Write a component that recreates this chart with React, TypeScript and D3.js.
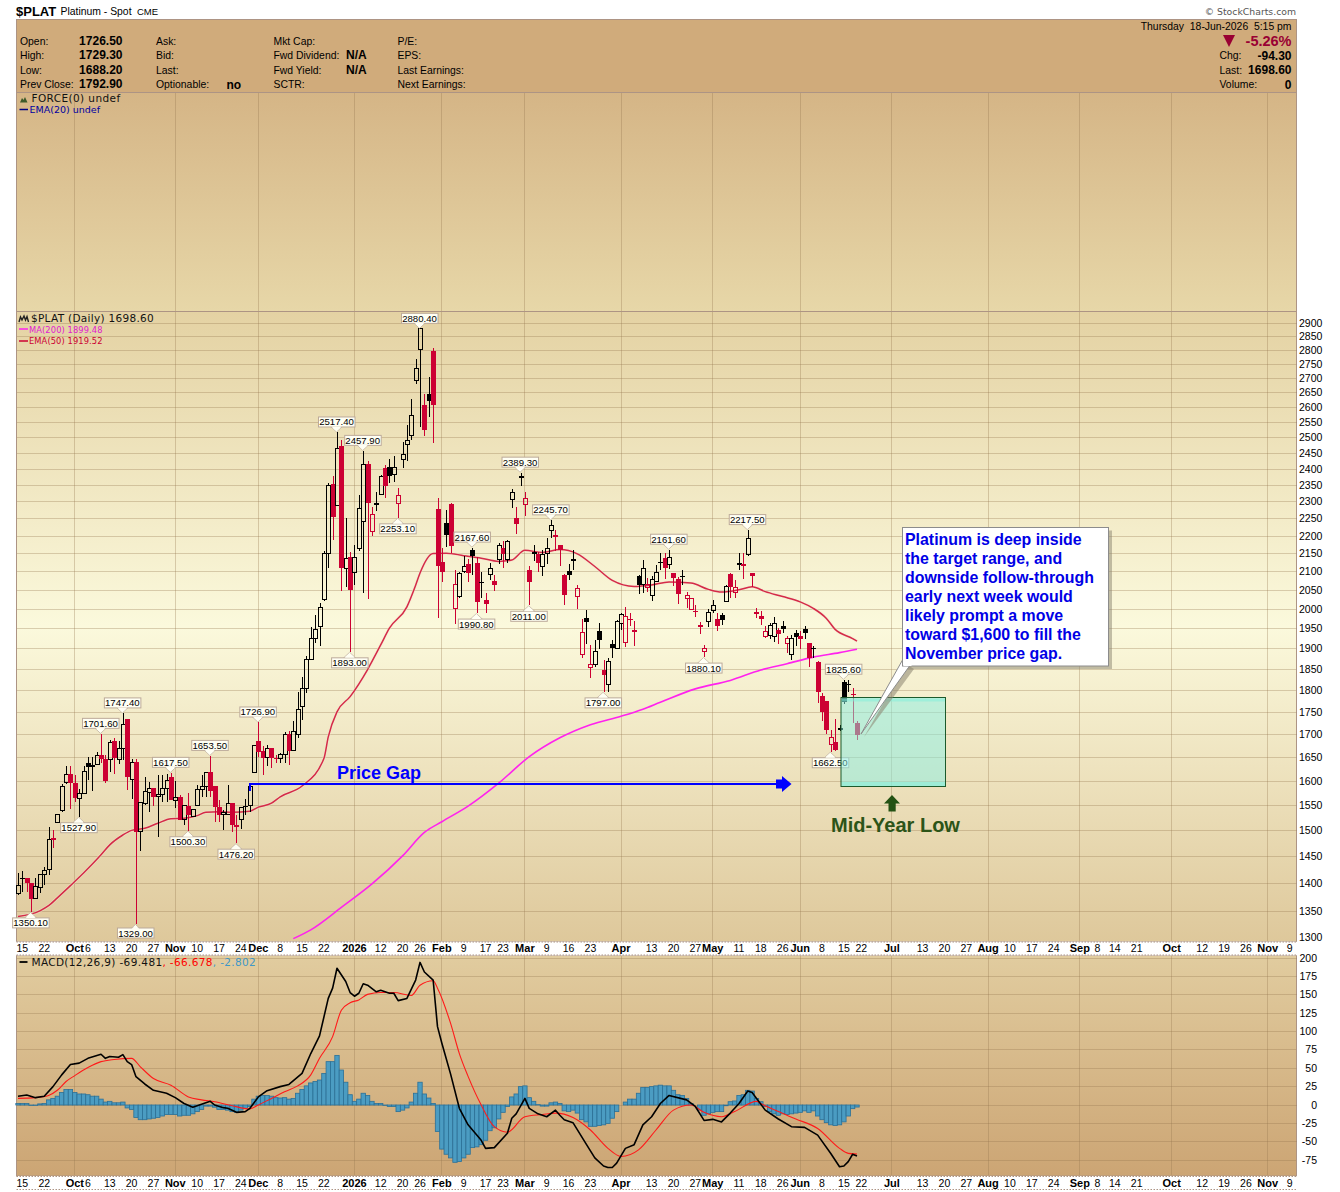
import React from 'react';
import * as d3 from 'd3';

// trading days, index 0 = 12 Sep 2025, index 192 = 18 Jun 2026
const opens = [
  1383, 1410, 1411, 1402, 1373, 1394, 1418, 1426, 1486, 1517,
  1541, 1597, 1615, 1596, 1565, 1575, 1638, 1630, 1635, 1656,
  1646, 1645, 1686, 1646, 1670, 1734, 1603, 1640, 1499, 1555,
  1577, 1585, 1568, 1573, 1585, 1609, 1561, 1568, 1523, 1549,
  1528, 1551, 1583, 1589, 1619, 1590, 1547, 1532, 1532, 1555,
  1511, 1522, 1547, 1550, 1618, 1686, 1665, 1650, 1670, 1650,
  1649, 1657, 1701, 1665, 1700, 1763, 1806, 1873, 1926, 1956,
  2027, 2152, 2354, 2289, 2475, 2110, 2142, 2098, 2166, 2243,
  2416, 2212, 2293, 2322, 2404, 2406, 2383, 2294, 2430, 2477,
  2506, 2692, 2805, 2609, 2645, 2798, 2280, 2128, 2238, 2294,
  2003, 2035, 2101, 2123, 2161, 2126, 2071, 2025, 2094, 2076,
  2135, 2166, 2133, 2306, 2254, 2380, 2291, 2105, 2151, 2150,
  2115, 2152, 2216, 2203, 2176, 2092, 2103, 2132, 2035, 1887,
  1977, 1856, 1863, 1944, 1849, 1815, 1912, 1902, 1965, 1916,
  1976, 1942, 2089, 2065, 2059, 2037, 2073, 2126, 2138, 2120,
  2098, 2080, 2088, 2028, 2001, 1997, 1959, 1893, 1968, 1997,
  1975, 1987, 2021, 2095, 2044, 2120, 2123, 2149, 2097, 1993,
  1982, 1931, 1933, 1931, 1948, 1957, 1914, 1887, 1939, 1932,
  1950, 1914, 1901, 1869, 1787, 1775, 1679, 1684, 1711, 1821,
  1814, 1793, 1726.5,
];
const highs = [
  1420, 1423, 1411, 1402, 1411, 1418, 1432, 1507, 1502, 1533,
  1594, 1632, 1632, 1614, 1583, 1632, 1652, 1652, 1663, 1701.6,
  1656, 1688, 1693, 1685, 1747.4, 1734, 1647, 1647, 1557, 1608,
  1599, 1585, 1613, 1613, 1615, 1617.5, 1600, 1572, 1550, 1575,
  1543, 1592, 1613, 1620, 1653.5, 1590, 1562, 1541, 1592, 1555,
  1532, 1547, 1563, 1595, 1677, 1726.9, 1674, 1677, 1670, 1656,
  1659, 1706, 1708, 1731, 1797, 1833, 1883, 1954, 1986, 2018,
  2158, 2356, 2379, 2517.4, 2492, 2252, 2154, 2176, 2320, 2457.9,
  2427, 2285, 2331, 2382, 2412, 2432, 2442, 2342, 2488, 2543,
  2630, 2768, 2880.4, 2645, 2707, 2811, 2312, 2166, 2276, 2298,
  2105, 2101, 2144, 2135, 2167.6, 2141, 2101, 2043, 2125, 2092,
  2180, 2185, 2189, 2340, 2286, 2389.3, 2330, 2116, 2175, 2156,
  2160, 2194, 2245.7, 2217, 2176, 2095, 2122, 2160, 2066, 1975,
  1999, 1910, 1922, 1966, 1873, 1879, 1922, 1972, 1992, 2006,
  1990, 1970, 2091, 2132, 2084, 2088, 2118, 2152, 2152, 2161.6,
  2098, 2086, 2105, 2047, 2031, 2012, 1967, 1910, 2001, 2026,
  1992, 1992, 2065, 2097, 2079, 2153, 2152, 2217.5, 2097, 2003,
  1995, 1957, 1965, 1980, 1952, 1971, 1932, 1934, 1947, 1945,
  1958, 1915, 1907, 1870, 1794, 1775, 1710, 1734, 1722, 1825.6,
  1825, 1807, 1729.3,
];
const lows = [
  1380, 1386, 1386, 1350.1, 1374, 1383, 1398, 1416, 1467, 1517,
  1538, 1594, 1543, 1557, 1527.9, 1575, 1603, 1580, 1635, 1638,
  1596, 1620, 1616, 1637, 1645, 1582, 1563, 1329, 1462, 1551,
  1538, 1550, 1489, 1557, 1557, 1562, 1545, 1522, 1512, 1500.3,
  1528, 1551, 1568, 1568, 1568, 1518, 1518, 1502, 1532, 1497,
  1476.2, 1504, 1532, 1538, 1618, 1652, 1613, 1631, 1627, 1638,
  1639, 1639, 1635, 1665, 1693, 1732, 1794, 1872, 1914, 1907,
  2022, 2110, 2190, 2289, 2050, 2059, 1893, 2066, 2159, 2043,
  2027, 2201, 2273, 2322, 2311, 2358, 2360, 2253.1, 2404, 2426,
  2492, 2680, 2536, 2505, 2568, 2484, 1977, 2074, 2168, 2152,
  1962, 2030, 2096, 2073, 2092, 1990.8, 2031, 1992, 2079, 2050,
  2122, 2112, 2125, 2281, 2205, 2349, 2259, 2011, 2129, 2101,
  2089, 2123, 2194, 2159, 2117, 2012, 2079, 2105, 2002, 1879,
  1912, 1829, 1855, 1899, 1797, 1797.5, 1877, 1901, 1948, 1906,
  1957, 1908, 2040, 2044, 2047, 2021, 2073, 2105, 2082, 2107,
  2062, 2015, 2065, 2004, 1999, 1980, 1937, 1880.1, 1954, 1990,
  1946, 1960, 2019, 2030, 2030, 2105, 2082, 2145, 2059, 1977,
  1960, 1927, 1924, 1918, 1912, 1941, 1889, 1873, 1907, 1899,
  1926, 1857, 1877, 1772, 1731, 1701, 1662.5, 1665, 1708, 1770,
  1797, 1725, 1688.2,
];
const closes = [
  1398, 1411, 1401, 1373, 1395, 1418, 1425, 1484, 1483, 1533,
  1590, 1615, 1596, 1566, 1575, 1620, 1630, 1634, 1654, 1646,
  1600, 1683, 1648, 1670, 1723, 1608, 1640, 1497, 1557, 1578,
  1584, 1568, 1573, 1585, 1601, 1562, 1567, 1522, 1550, 1532,
  1543, 1583, 1589, 1619, 1580, 1547, 1532, 1537, 1555, 1512,
  1509, 1547, 1550, 1590, 1677, 1663, 1650, 1670, 1650, 1646,
  1657, 1701, 1665, 1706, 1757, 1805, 1873, 1926, 1949, 2006,
  2152, 2351, 2256, 2467, 2110, 2138, 2052, 2140, 2280, 2415,
  2298, 2263, 2296, 2378, 2348, 2380, 2406, 2320, 2446, 2492,
  2572, 2736, 2880, 2525, 2622, 2609, 2115, 2101, 2203, 2173,
  2065, 2096, 2115, 2098, 2144, 2020, 2074, 2015, 2110, 2066,
  2173, 2150, 2186, 2329, 2236, 2372, 2311, 2073, 2154, 2125,
  2149, 2165, 2232, 2200, 2160, 2039, 2092, 2135, 2056, 1941,
  1968, 1863, 1893, 1922, 1837, 1870, 1903, 1968, 1987, 1982,
  1974, 1947, 2065, 2110, 2067, 2079, 2099, 2128, 2110, 2140,
  2084, 2040, 2090, 2037, 2030, 1995, 1957, 1900, 1993, 2011,
  1958, 1974, 2061, 2060, 2059, 2124, 2117, 2194, 2089, 1991,
  1975, 1944, 1958, 1965, 1937, 1950, 1926, 1927, 1929, 1925,
  1941, 1877, 1903, 1797, 1751, 1710, 1693, 1666, 1715, 1773,
  1816, 1792.9, 1698.6,
];

const ema50Idx = [0, 5, 7, 9, 12, 15, 19, 21, 24, 26, 29, 32, 35, 38, 41, 43, 46, 49, 53, 55, 58, 60, 65, 70, 71, 73, 76, 80, 83, 85, 89, 91, 92, 95, 98, 102, 106, 110, 113, 116, 120, 124, 128, 132, 136, 141, 145, 149, 154, 158, 161, 165, 168, 171, 175, 179, 182, 185, 187, 191, 192];
const ema50Val = [1342, 1352, 1361, 1375, 1397, 1420, 1454, 1473, 1492, 1501, 1505, 1515, 1524, 1525, 1530, 1537, 1538, 1537, 1539, 1547, 1555, 1568, 1590, 1648, 1695, 1751, 1786, 1850, 1910, 1952, 2007, 2064, 2097, 2151, 2152, 2145, 2138, 2129, 2133, 2160, 2154, 2162, 2150, 2115, 2077, 2061, 2065, 2073, 2070, 2053, 2046, 2052, 2060, 2047, 2034, 2020, 2003, 1977, 1949, 1926, 1919.52];
const ma200Idx = [63, 67, 74, 81, 88, 93, 97, 103, 110, 117, 124, 131, 138, 143, 147, 155, 163, 170, 176, 182, 188, 192];
const ma200Val = [1304, 1319, 1358, 1400, 1452, 1497, 1518, 1549, 1596, 1652, 1693, 1722, 1741, 1757, 1773, 1804, 1824, 1849, 1864, 1880, 1891, 1899.48];

const macdIdx = [0, 2, 4, 6, 8, 10, 12, 14, 16, 19, 20, 21, 23, 24, 25, 26, 27, 29, 31, 34, 36, 38, 40, 42, 44, 45, 47, 48, 50, 52, 53, 55, 57, 60, 62, 65, 67, 69, 71, 72, 73, 75, 76, 77, 78, 79, 80, 82, 83, 85, 86, 87, 89, 91, 92, 93, 95, 96, 97, 99, 101, 103, 106, 107, 109, 112, 113, 114, 116, 117, 119, 121, 123, 124, 125, 127, 130, 132, 134, 135, 136, 137, 139, 141, 143, 145, 147, 149, 153, 155, 157, 159, 161, 163, 165, 167, 168, 171, 174, 177, 180, 183, 186, 188, 189, 190, 191, 192];
const macdVal = [12, 13.6, 10, 12, 25, 41, 55, 57, 63.5, 69, 63.5, 66, 65, 68.5, 59, 55, 38.5, 28.6, 20, 16, 10, 2, -3, 1, 5, 0, -3.6, -4.5, -10, -9, -5, 11, 19.5, 25, 28, 43, 70, 94, 145, 159, 186, 168, 153, 148, 152, 165, 163, 154, 156, 152, 152, 142, 145, 170, 194, 181, 170, 106.6, 84, 42, -4.5, -27, -48, -59, -58, -38.5, -18, -12, 9, -4.5, -12, -16, -7, -14, -20, -24, -53, -72, -83, -85, -85, -79, -59, -54, -27, -16, 2, 13, 7, -2, -21, -19.5, -23, -11, 2, 19, 17, -7, -19, -29.5, -30.4, -41, -66, -84, -83, -77, -67, -69.481];
const signalIdx = [0, 4, 7, 9, 11, 13, 16, 19, 22, 26, 28, 31, 35, 39, 42, 45, 49, 53, 55, 58, 61, 64, 67, 69, 72, 74, 76, 78, 80, 83, 86, 90, 92, 95, 96, 99, 101, 103, 106, 109, 112, 116, 120, 123, 127, 131, 135, 138, 142, 146, 150, 154, 157, 161, 164, 169, 170, 174, 178, 183, 188, 190, 192];
const signalVal = [9, 10, 13, 20, 32, 40, 51, 59, 62, 63.5, 52, 36, 27, 11, 7, 4.5, -1, -5.4, 0, 9, 18, 26, 41, 63.5, 93, 129, 139, 143, 150.5, 153, 153, 149, 163, 169, 159, 111, 70, 39, 0, -29.5, -37, -16, -13, -11, -17, -34, -59, -70, -61, -34, -7, 0, -10, -16, -9, 5, 2, -9, -19, -32, -59, -65.8, -66.678];
const histVal = [
  2, 2, 2, -0.5, -0.5, 1.5, 2, 7, 9, 12,
  17, 21, 21, 17, 15, 15, 14, 12, 12, 8,
  4, 5, 3, 3, 4, -4, -6, -17, -20, -20,
  -19, -18, -17, -15, -13, -13, -13, -15, -14, -14,
  -12, -9, -6, -1.5, -1.5, -3, -6, -6, -7, -9,
  -10, -7, -4.5, -2, 8, 12, 13, 13, 12, 10,
  9.5, 10, 8, 9, 16, 21, 26, 30, 32, 34,
  43, 59, 59, 67.5, 47.6, 31, 14, 5, 8, 16,
  13, 5, 2, 2, -0.5, -2, -2, -9, -7, -4,
  4, 16, 31, 15, 9.5, 2, -36, -60, -67, -72,
  -78, -77, -72, -67, -58, -57, -54, -48, -35, -31,
  -19, -10, -2, 11, 15, 25, 26, 10, 5, 0.5,
  -1.5, -1.5, 3, 4, 2, -8, -9, -7, -11, -20,
  -23, -29, -29, -28, -27, -25, -18, -9, 0, 4,
  8, 8, 16, 24, 24, 25, 26, 27, 26, 26,
  20, 14, 13, 9, 2, 0, -7, -14, -12, -10,
  -9, -9, -1, 4.5, 5.5, 13, 14, 20, 19, 9,
  4.5, -2, -9, -12, -14, -12, -13, -12, -11, -10,
  -8, -10, -8, -15, -20, -24, -27, -28, -27, -23,
  -15, -5, -2.802,
];

const tickIdx = [1, 6, 13, 16, 21, 26, 31, 36, 41, 46, 51, 55, 60, 65, 70, 77, 83, 88, 92, 97, 102, 107, 111, 116, 121, 126, 131, 138, 145, 150, 155, 159, 165, 170, 175, 179, 184, 189, 193, 200, 207, 212, 217, 222, 227, 232, 237, 243, 247, 251, 256, 264, 271, 276, 281, 286, 291];
const tickText = ['15', '22', 'Oct', '6', '13', '20', '27', 'Nov', '10', '17', '24', 'Dec', '8', '15', '22', '2026', '12', '20', '26', 'Feb', '9', '17', '23', 'Mar', '9', '16', '23', 'Apr', '13', '20', '27', 'May', '11', '18', '26', 'Jun', '8', '15', '22', 'Jul', '13', '20', '27', 'Aug', '10', '17', '24', 'Sep', '8', '14', '21', 'Oct', '12', '19', '26', 'Nov', '9'];
const priceTicks = d3.range(1300, 2901, 50);
const macdTicks = [200, 175, 150, 125, 100, 75, 50, 25, 0, -25, -50, -75];

const highLabels = [19, 24, 35, 44, 55, 73, 79, 92, 104, 115, 122, 149, 167, 189];
const lowLabels = [3, 14, 27, 39, 50, 76, 87, 105, 117, 134, 157, 186];

const calloutLines = [
  'Platinum is deep inside',
  'the target range, and',
  'downside follow-through',
  'early next week would',
  'likely prompt a move',
  'toward $1,600 to fill the',
  'November price gap.',
];
const infoCols: [number, string[]][] = [
  [20, ['Open:', 'High:', 'Low:', 'Prev Close:']],
  [156, ['Ask:', 'Bid:', 'Last:', 'Optionable:']],
  [273.5, ['Mkt Cap:', 'Fwd Dividend:', 'Fwd Yield:', 'SCTR:']],
  [397.5, ['P/E:', 'EPS:', 'Last Earnings:', 'Next Earnings:']],
];
const infoValues = ['1726.50', '1729.30', '1688.20', '1792.90'];
const rowY = [45, 59, 74, 88];

const ARIAL = "'Liberation Sans', Arial, sans-serif";
const VERDANA = "'DejaVu Sans', Verdana, sans-serif";
const RED = '#cc0033';
const GRID = 'rgba(150,118,78,0.33)';
const BORDER = '#ad9484';

const L = 16.5;
const R = 1296.5;

const x = d3.scaleLinear().domain([0, 192]).range([18, 857]);
const y = d3.scaleLog().domain([1300, 2900]).range([941, 323.6]);
const my = d3.scaleLinear().domain([0, 200]).range([1105, 958]);

const emaLine = d3.line<number>().x((_, i) => x(ema50Idx[i])).y(d => y(d)).curve(d3.curveMonotoneX);
const maLine = d3.line<number>().x((_, i) => x(ma200Idx[i])).y(d => y(d)).curve(d3.curveMonotoneX);
const macdLine = d3.line<number>().x((_, i) => x(macdIdx[i])).y(d => my(d));
const signalLine = d3.line<number>().x((_, i) => x(signalIdx[i])).y(d => my(d)).curve(d3.curveMonotoneX);

const isMonth = (t: string) => !/^\d{1,2}$/.test(t);

const PriceLabel = ({ i, high }: { i: number; high: boolean }) => {
  const cx = x(i) - 0.5;
  const v = high ? highs[i] : lows[i];
  const py = y(v);
  const dir = high ? -1 : 1;
  const boxY = high ? py - 16 : Math.min(py + 5.5, 927.5); // low labels stop at the pane floor
  return (
    <g>
      <polygon points={`${cx},${py + dir * 0.5} ${cx - 6},${py + dir * 6} ${cx + 6},${py + dir * 6}`} fill="#fffff4" stroke="#c4b5a3" strokeWidth={0.8} />
      <rect x={cx - 18} y={boxY + 0.5} width={36.5} height={10} fill="#fffff4" stroke="#bcaa9a" strokeWidth={1} />
      <polygon points={`${cx - 5},${py + dir * 6} ${cx + 5},${py + dir * 6} ${cx},${py + dir * 1.5}`} fill="#fffff4" />
      <text x={cx} y={boxY + 9} textAnchor="middle" fontFamily={ARIAL} fontSize={9.6} fill="#000">{v.toFixed(2)}</text>
    </g>
  );
};

const Candle = ({ i }: { i: number }) => {
  const cx = Math.round(x(i)) + 0.5;
  const o = opens[i];
  const c = closes[i];
  const col = i === 0 || c >= closes[i - 1] ? '#000' : RED;
  const top = y(Math.max(o, c));
  const bot = y(Math.min(o, c));
  const hollow = c > o;
  const h = Math.max(bot - top, 1);
  const isDash = bot - top < 2;
  return (
    <g shapeRendering="crispEdges">
      <line x1={cx} x2={cx} y1={y(highs[i])} y2={top} stroke={col} />
      <line x1={cx} x2={cx} y1={bot} y2={y(lows[i])} stroke={col} />
      {isDash ? (
        <rect x={cx - 2.5} y={top} width={5} height={Math.max(h, 1.5)} fill={col} />
      ) : hollow ? (
        <rect x={cx - 2} y={top} width={4} height={h} fill="none" stroke={col} />
      ) : (
        <rect x={cx - 2.5} y={top} width={5} height={h} fill={col} />
      )}
    </g>
  );
};

const XStrip = ({ top }: { top: number }) => (
  <g>
    <rect x={L} y={top} width={R - L} height={14} fill="#fff" />
    <line x1={L} x2={R} y1={top + 0.5} y2={top + 0.5} stroke={BORDER} strokeDasharray="1.5 1.5" />
    <line x1={L} x2={R} y1={top + 13.5} y2={top + 13.5} stroke={BORDER} strokeDasharray="1.5 1.5" />
    {tickIdx.map((t, k) => (
      <text key={k} x={x(t)} y={top + 10.5} textAnchor="middle" fontFamily={ARIAL}
        fontSize={isMonth(tickText[k]) ? 11 : 10.5} fontWeight={isMonth(tickText[k]) ? 700 : 400} fill="#000">
        {tickText[k]}
      </text>
    ))}
  </g>
);

export default function App() {
  const monthIdx = tickIdx.filter((_, k) => isMonth(tickText[k]));
  return (
    <svg width={1340} height={1192} viewBox="0 0 1340 1192"
      style={{ position: 'absolute', left: 0, top: 0, background: '#fff', display: 'block' }}>
      <defs>
        <linearGradient id="forceBg" x1="0" x2="0" y1="0" y2="1">
          <stop offset="0" stopColor="#d5b586" />
          <stop offset="1" stopColor="#e7d7a8" />
        </linearGradient>
        <linearGradient id="mainBg" x1="0" x2="0" y1="0" y2="1">
          <stop offset="0" stopColor="#e4d2a3" />
          <stop offset="0.5" stopColor="#fbf9dc" />
          <stop offset="1" stopColor="#dec89b" />
        </linearGradient>
        <linearGradient id="macdBg" x1="0" x2="0" y1="0" y2="1">
          <stop offset="0" stopColor="#e1cc9f" />
          <stop offset="1" stopColor="#cca574" />
        </linearGradient>
      </defs>

      {/* title */}
      <text x={16} y={16} fontFamily={ARIAL} fontWeight={700} fontSize={13} fill="#000">$PLAT</text>
      <text x={60.5} y={15} fontFamily={ARIAL} fontSize={10.4} fill="#000">Platinum - Spot</text>
      <text x={137} y={15} fontFamily={ARIAL} fontSize={9.5} fill="#000">CME</text>
      <text x={1296} y={15} textAnchor="end" fontFamily={VERDANA} fontSize={9.3} fill="#555">© StockCharts.com</text>

      {/* panes */}
      <rect x={L} y={19.5} width={R - L} height={73} fill="#d0ab7b" stroke={BORDER} />
      <rect x={L} y={92.5} width={R - L} height={219} fill="url(#forceBg)" stroke={BORDER} />
      <rect x={L} y={311.5} width={R - L} height={630} fill="url(#mainBg)" stroke={BORDER} />
      <rect x={L} y={955.5} width={R - L} height={220.5} fill="url(#macdBg)" stroke={BORDER} />

      {/* header */}
      <g fontFamily={ARIAL} fontSize={10.4} fill="#000">
        {infoCols.map(([cx, labels], c) => labels.map((t, r) => (
          <text key={`${c}-${r}`} x={cx} y={rowY[r]}>{t}</text>
        )))}
        <g fontWeight={700} fontSize={12}>
          {infoValues.map((t, r) => <text key={t} x={122.5} y={rowY[r]} textAnchor="end">{t}</text>)}
          <text x={226.5} y={rowY[3] + 1}>no</text>
          <text x={346} y={rowY[1]}>N/A</text>
          <text x={346} y={rowY[2]}>N/A</text>
        </g>
        <text x={1291.5} y={30} textAnchor="end" style={{ whiteSpace: 'pre' }}>Thursday  18-Jun-2026  5:15 pm</text>
        <text x={1219.5} y={59}>Chg:</text>
        <text x={1219.5} y={74}>Last:</text>
        <text x={1219.5} y={88}>Volume:</text>
        <g fontWeight={700} fontSize={12} textAnchor="end">
          <text x={1291.5} y={59.5}>-94.30</text>
          <text x={1291.5} y={74}>1698.60</text>
          <text x={1291.5} y={88.5}>0</text>
        </g>
        <polygon points="1223,35 1235,35 1229,47" fill="#990033" />
        <text x={1291.5} y={46} textAnchor="end" fontWeight={700} fontSize={14.5} fill="#990033">-5.26%</text>
      </g>

      {/* grid */}
      {monthIdx.map(t => (
        <g key={t} stroke={GRID} shapeRendering="crispEdges">
          <line x1={x(t)} x2={x(t)} y1={93} y2={311} />
          <line x1={x(t)} x2={x(t)} y1={312} y2={941} />
          <line x1={x(t)} x2={x(t)} y1={956} y2={1175} />
        </g>
      ))}
      {priceTicks.map(p => (
        <line key={p} x1={L} x2={R} y1={y(p)} y2={y(p)} stroke={GRID} shapeRendering="crispEdges" />
      ))}
      {macdTicks.map(v => (
        <line key={v} x1={L} x2={R} y1={my(v)} y2={my(v)} stroke={GRID} shapeRendering="crispEdges" />
      ))}

      {/* right axis */}
      <line x1={R} x2={R} y1={312} y2={941} stroke={BORDER} strokeDasharray="1.5 1.5" />
      <line x1={R} x2={R} y1={956} y2={1176} stroke={BORDER} strokeDasharray="1.5 1.5" />
      <g fontFamily={ARIAL} fontSize={10.5} fill="#000">
        {priceTicks.map(p => (
          <text key={p} x={1299} y={Math.min(y(p) + 3.5, 941)}>{p}</text>
        ))}
        {macdTicks.map(v => (
          <text key={v} x={1317} y={my(v) + 3.5} textAnchor="end">{v}</text>
        ))}
      </g>

      {/* force pane legend */}
      <path d="M20,102.5 L22,98 L23.5,100 L25,97 L27.5,102.5 Z" fill="#3d5a2a" />
      <text x={31.5} y={102} fontFamily={VERDANA} fontSize={10.5} letterSpacing={0.4} fill="#111">FORCE(0) undef</text>
      <line x1={19.5} x2={28} y1={109.5} y2={109.5} stroke="#000080" strokeWidth={1.5} />
      <text x={29.5} y={113} fontFamily={VERDANA} fontSize={9.5} fill="#0000a0">EMA(20) undef</text>

      {/* main pane */}
      <path d={emaLine(ema50Val) ?? ''} fill="none" stroke="#f6e6d0" strokeWidth={3} opacity={0.5} />
      <path d={maLine(ma200Val) ?? ''} fill="none" stroke="#ff22ee" strokeWidth={1.6} />
      <path d={emaLine(ema50Val) ?? ''} fill="none" stroke="#d42a48" strokeWidth={1.5} />

      {opens.map((_, i) => <Candle key={i} i={i} />)}
      {highLabels.map(i => <PriceLabel key={i} i={i} high />)}
      {lowLabels.map(i => <PriceLabel key={i} i={i} high={false} />)}

      <path d="M19,322 L20.5,317 L22,320 L24,316 L25.5,320 L27,316.5 L28.5,322" fill="none" stroke="#222" strokeWidth={1.4} />
      <text x={31} y={322} fontFamily={VERDANA} fontSize={10.5} letterSpacing={0.3} fill="#111">$PLAT (Daily) 1698.60</text>
      <line x1={19} x2={28} y1={329} y2={329} stroke="#ff22ee" strokeWidth={1.5} />
      <text x={29} y={332.5} fontFamily={VERDANA} fontSize={8.3} letterSpacing={0.1} fill="#e020d0">MA(200) 1899.48</text>
      <line x1={19} x2={28} y1={341} y2={341} stroke={RED} strokeWidth={1.5} />
      <text x={29} y={344} fontFamily={VERDANA} fontSize={8.3} letterSpacing={0.1} fill={RED}>EMA(50) 1919.52</text>

      {/* price gap */}
      <path d={`M250,791 V784 H777`} fill="none" stroke="#0000ff" strokeWidth={2} />
      <path d="M776,779.5 H782 V776 L791.5,784 L782,792 V788.5 H776 Z" fill="#0000ff" />
      <text x={337} y={779} fontFamily={ARIAL} fontWeight={700} fontSize={18} fill="#0000ff">Price Gap</text>

      {/* target box */}
      <rect x={841} y={697.5} width={104.5} height={89} fill="#89f0e5" fillOpacity={0.5} />
      <rect x={841.5} y={698.5} width={103.5} height={3} fill="#7ff0dc" fillOpacity={0.5} />
      <rect x={841.5} y={782} width={103.5} height={4} fill="#7ff0dc" fillOpacity={0.5} />
      <rect x={841} y={697.5} width={104.5} height={89} fill="none" stroke="#1d5a2c" />

      <polygon points="892,795 900,803.5 895.7,803.5 895.7,811.5 888.5,811.5 888.5,803.5 884,803.5" fill="#245214" />
      <text x={831} y={832} fontFamily={ARIAL} fontWeight={700} fontSize={20} fill="#2c5418">Mid-Year Low</text>

      {/* callout */}
      <polygon points="864,737 906,664 914,669" fill="#8a8470" fillOpacity={0.55} />
      <rect x={906} y={530.5} width={206} height={138.5} fill="#8a8470" fillOpacity={0.5} />
      <polygon points="861,734 902.5,660 909.5,666" fill="#fff" stroke="#8c8c8c" />
      <rect x={902.5} y={527.5} width={206} height={138.5} fill="#fff" stroke="#8c8c8c" />
      <rect x={903.5} y={655} width={8} height={11} fill="#fff" />
      <g fontFamily={ARIAL} fontWeight={700} fontSize={15.9} fill="#0000e6">
        {calloutLines.map((t, k) => <text key={k} x={905} y={545 + k * 19}>{t}</text>)}
      </g>

      {/* macd pane */}
      {histVal.map((v, i) => (
        <rect key={i} x={x(i) - 2.18} width={4.37} y={Math.min(my(v), my(0))} height={Math.abs(my(v) - my(0))}
          fill="#4b9cc2" stroke="#2b7097" strokeWidth={0.8} />
      ))}
      <path d={signalLine(signalVal) ?? ''} fill="none" stroke="#ff1a1a" strokeWidth={1.1} />
      <path d={macdLine(macdVal) ?? ''} fill="none" stroke="#000" strokeWidth={1.6} strokeLinejoin="round" />
      <line x1={19.5} x2={27.5} y1={962} y2={962} stroke="#000" strokeWidth={1.8} />
      <text x={31.5} y={966} fontFamily={VERDANA} fontSize={10.5} letterSpacing={0.35} fill="#111">
        MACD(12,26,9) -69.481<tspan fill="#f00">, -66.678</tspan><tspan fill="#3f97c7">, -2.802</tspan>
      </text>

      <XStrip top={941.5} />
      <XStrip top={1176} />
    </svg>
  );
}
